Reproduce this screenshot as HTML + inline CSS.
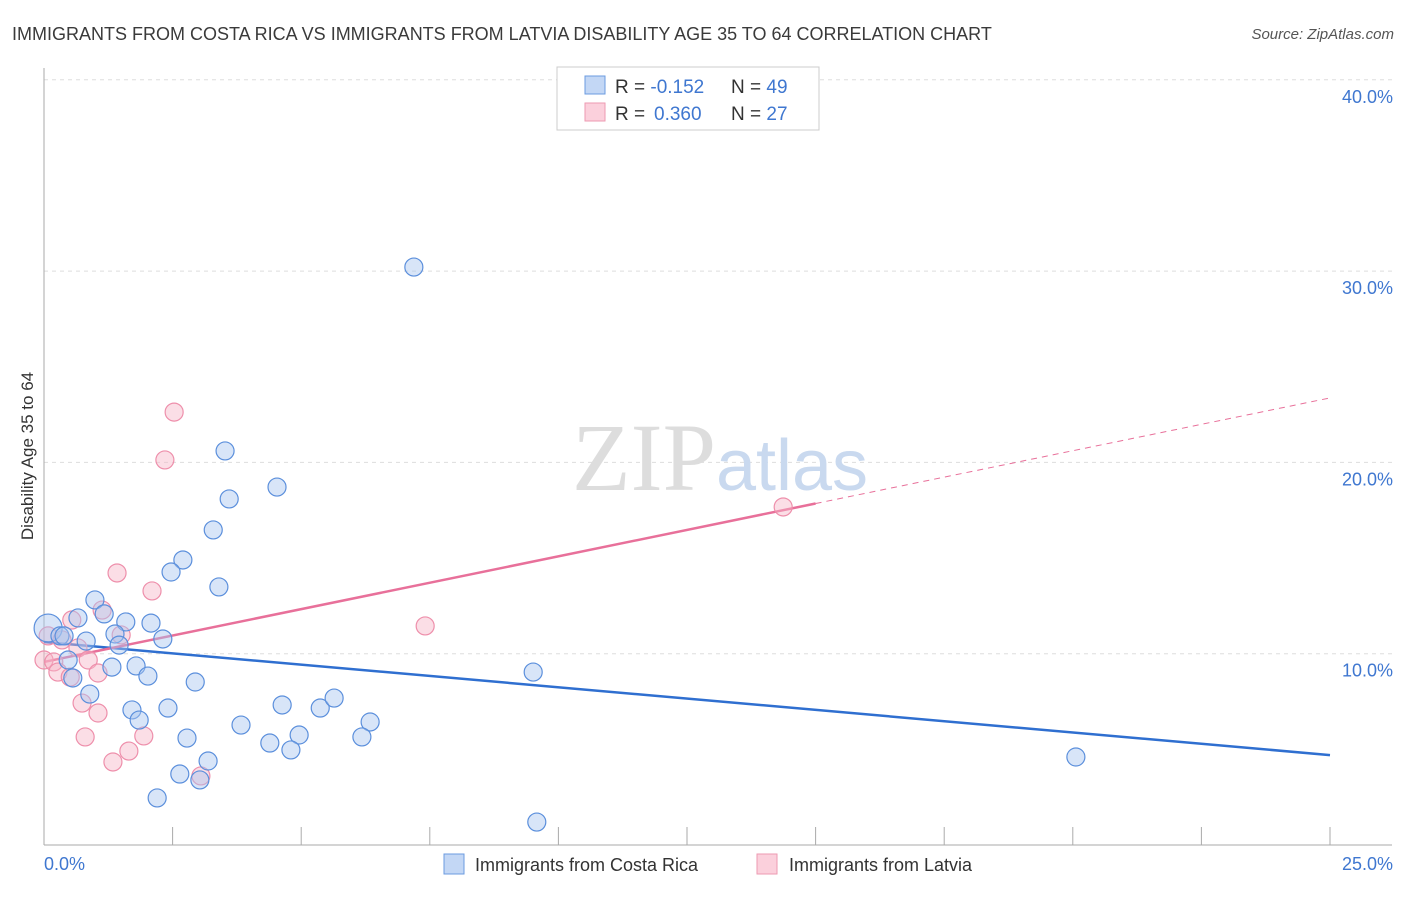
<!DOCTYPE html>
<html><head><meta charset="utf-8"><style>
body{margin:0;background:#fff;font-family:"Liberation Sans",sans-serif}
</style></head><body>
<svg width="1406" height="892" xmlns="http://www.w3.org/2000/svg" font-family="Liberation Sans, sans-serif">
<text x="12" y="40" font-size="18" fill="#3a3a3a">IMMIGRANTS FROM COSTA RICA VS IMMIGRANTS FROM LATVIA DISABILITY AGE 35 TO 64 CORRELATION CHART</text>
<text x="1394" y="39" font-size="15" fill="#555" text-anchor="end" font-style="italic">Source: ZipAtlas.com</text>
<g id="grid"></g>
<text x="720" y="490" font-size="96" text-anchor="middle" fill="#ddd" font-family="Liberation Serif, serif">ZIP<tspan fill="#c9d9ef" font-family="Liberation Sans, sans-serif" font-size="72">atlas</tspan></text>
<g id="axes"></g>
<g id="trend"></g>
<g id="points"></g>
<text transform="translate(33,456) rotate(-90)" font-size="17" fill="#333" text-anchor="middle">Disability Age 35 to 64</text>
<g>
<rect x="557" y="67" width="262" height="63" fill="#fff" stroke="#ccc"/>
<rect x="585" y="76" width="20" height="18" fill="#c3d7f5" stroke="#6b9be0"/>
<rect x="585" y="103" width="20" height="18" fill="#fbd0dc" stroke="#ee9ab2"/>
<text x="615" y="93" font-size="19" fill="#333">R = <tspan fill="#3f77d0">-0.152</tspan><tspan x="731">N = </tspan><tspan fill="#3f77d0">49</tspan></text>
<text x="615" y="120" font-size="19" fill="#333">R = <tspan fill="#3f77d0" x="654">0.360</tspan><tspan x="731">N = </tspan><tspan fill="#3f77d0">27</tspan></text>
</g>
<g>
<rect x="444" y="854" width="20" height="20" fill="#c3d7f5" stroke="#6b9be0"/>
<text x="475" y="871" font-size="18" fill="#333">Immigrants from Costa Rica</text>
<rect x="757" y="854" width="20" height="20" fill="#fbd0dc" stroke="#ee9ab2"/>
<text x="789" y="871" font-size="18" fill="#333">Immigrants from Latvia</text>
</g>
</svg>
<script>
const yTicks=[10,20,30,40];
const yTickLabels=["10.0%","20.0%","30.0%","40.0%"];
const xTicks=[0,2.5,5,7.5,10,12.5,15,17.5,20,22.5,25];
const blueX=[7.19,3.52,4.53,3.60,3.29,2.70,2.47,3.40,0.99,2.08,1.59,1.17,0.66,2.31,0.82,1.38,1.46,0.08,0.31,0.47,0.56,1.32,1.79,2.02,2.94,0.89,1.71,1.85,2.41,3.83,4.63,5.37,5.64,6.34,2.78,4.96,6.18,4.39,4.80,3.19,2.64,3.03,2.20,9.51,20.06,9.58,0.39];
const blueY=[30.21,20.60,18.71,18.09,16.47,14.90,14.27,13.49,12.81,11.60,11.66,12.08,11.87,10.77,10.66,11.03,10.45,11.34,10.93,9.67,8.73,9.30,9.36,8.83,8.52,7.89,7.06,6.53,7.16,6.27,7.32,7.16,7.68,6.43,5.59,5.75,5.65,5.33,4.97,4.39,3.71,3.40,2.46,9.04,4.60,1.20,10.93];
const pinkX=[2.53,2.35,1.42,2.10,1.13,0.54,1.50,0.66,0.08,0,0.19,0.27,0.51,0.86,1.05,0.74,1.05,0.80,1.34,1.65,1.94,3.05,7.41,14.37,0.35];
const pinkY=[22.63,20.13,14.22,13.28,12.28,11.76,10.98,10.30,10.93,9.67,9.57,9.04,8.78,9.67,8.99,7.42,6.90,5.65,4.34,4.91,5.70,3.61,11.45,17.67,10.72];
const blueTrend=[10.61,4.70];
const pinkTrend=[9.57,23.37];
const pinkSolidEnd=15;
const NS="http://www.w3.org/2000/svg";
const sx=v=>44+v*51.44, sy=v=>845-v*19.13;
function mk(t,a,p){const e=document.createElementNS(NS,t);for(const k in a)e.setAttribute(k,a[k]);p.appendChild(e);return e;}
const grid=document.getElementById('grid'),axes=document.getElementById('axes'),trend=document.getElementById('trend'),pts=document.getElementById('points');
yTicks.forEach((t,i)=>{
 const l=mk('line',{x1:44,x2:1392,y1:sy(t),y2:sy(t),stroke:'#ddd','stroke-dasharray':'4,4'},grid);
 
 const tx=mk('text',{x:1393,y:sy(t)+23,'font-size':18,fill:'#3f77d0','text-anchor':'end'},axes);
 tx.textContent=yTickLabels[i];
 
});
const ax=mk('line',{x1:44,x2:44,y1:68,y2:845,stroke:'#aaa'},axes);

const bx=mk('line',{x1:44,x2:1392,y1:845,y2:845,stroke:'#aaa'},axes);

xTicks.forEach(t=>{const l=mk('line',{x1:sx(t),x2:sx(t),y1:827,y2:845,stroke:'#aaa'},axes);
 });
[[0,'0.0%','start',44],[25,'25.0%','end',1393]].forEach(a=>{const t=mk('text',{x:a[3],y:870,'font-size':18,fill:'#3f77d0','text-anchor':a[2]},axes);t.textContent=a[1];
 });
function dots(X,Y,fill,stroke,name){X.forEach((x,i)=>{const c=mk('circle',{cx:sx(x),cy:sy(Y[i]),r:(i==17&&name=='costa-rica-point')?14:9,fill:fill,'fill-opacity':0.45,stroke:stroke,'stroke-width':1.2},pts);
 });}
dots(pinkX,pinkY,'#f7b6c8','#ee8fab','latvia-point');
dots(blueX,blueY,'#a9c6ef','#5b8fdc','costa-rica-point');
const b=mk('line',{x1:sx(0),y1:sy(blueTrend[0]),x2:sx(25),y2:sy(blueTrend[1]),stroke:'#2f6fd0','stroke-width':2.5},trend);

const py=x=>pinkTrend[0]+(pinkTrend[1]-pinkTrend[0])*x/25;
const p=mk('line',{x1:sx(0),y1:sy(py(0)),x2:sx(pinkSolidEnd),y2:sy(py(pinkSolidEnd)),stroke:'#e8709a','stroke-width':2.5},trend);

const pd=mk('line',{x1:sx(pinkSolidEnd),y1:sy(py(pinkSolidEnd)),x2:sx(25),y2:sy(py(25)),stroke:'#e8709a','stroke-width':1,'stroke-dasharray':'6,5'},trend);

</script>
</body></html>
